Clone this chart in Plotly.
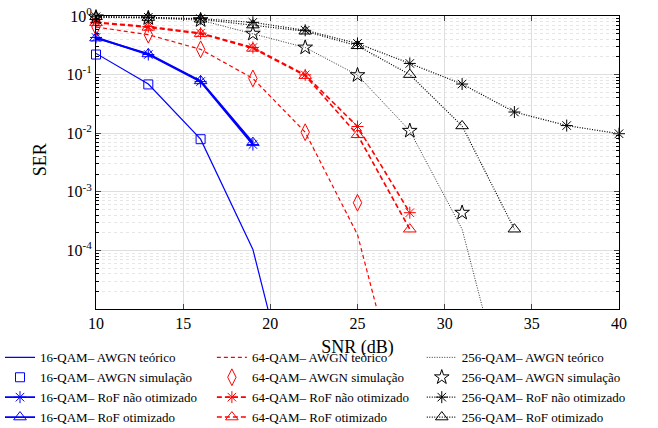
import plotly.graph_objects as go

# ---------------- data ----------------
snr16_teo = [10, 13, 16, 19, 22]
ser16_teo = [0.23, 0.069, 0.0079, 1.04e-4, 3e-8]
snr16_sim = [10, 13, 16]
ser16_sim = [0.22, 0.068, 0.0079]
snr16_rof = [10, 13, 16, 19]
ser16_rof_nao = [0.43, 0.22, 0.076, 0.0064]
ser16_rof_ot = [0.42, 0.225, 0.078, 0.0069]

snr64_teo = [10, 13, 16, 19, 22, 25, 28]
ser64_teo = [0.65, 0.48, 0.27, 0.086, 0.0104, 1.86e-4, 7e-8]
snr64_sim = [10, 13, 16, 19, 22, 25]
ser64_sim = [0.65, 0.48, 0.27, 0.086, 0.0104, 6.5e-4]
snr64_rof = [10, 13, 16, 19, 22, 25, 28]
ser64_rof_nao = [0.78, 0.66, 0.51, 0.29, 0.099, 0.013, 4.4e-4]
ser64_rof_ot = [0.77, 0.64, 0.50, 0.28, 0.096, 0.0094, 2.3e-4]

snr256_teo = [10, 13, 16, 19, 22, 25, 28, 31, 34]
ser256_teo = [0.95, 0.92, 0.85, 0.5, 0.29, 0.098, 0.011, 2.3e-4, 8.5e-8]
snr256_sim = [10, 13, 16, 19, 22, 25, 28, 31]
ser256_sim = [0.95, 0.92, 0.85, 0.5, 0.29, 0.098, 0.011, 4.4e-4]
snr256_rof_nao = [10, 13, 16, 19, 22, 25, 28, 31, 34, 37, 40]
ser256_rof_nao = [0.97, 0.95, 0.9, 0.78, 0.57, 0.34, 0.155, 0.069, 0.023, 0.0135, 0.0098]
snr256_rof_ot = [10, 13, 16, 19, 22, 25, 28, 31, 34]
ser256_rof_ot = [0.97, 0.94, 0.88, 0.7, 0.55, 0.31, 0.10, 0.0133, 2.3e-4]

x_ticks = [10, 15, 20, 25, 30, 35, 40]
y_ticks = [1, 0.1, 0.01, 1e-3, 1e-4]
y_ticktext = ["10<sup>0</sup>", "10<sup>-1</sup>", "10<sup>-2</sup>", "10<sup>-3</sup>", "10<sup>-4</sup>"]
y_minor = [m * 10 ** e for e in range(-5, 0) for m in range(2, 10)]

# ---------------- figure ----------------
FONT = "Liberation Serif"
BLUE, RED, BLACK = "#0000ff", "#ff0000", "#000000"
fig = go.Figure()

def add(x, y, name, color, legend, mode, dash="solid", width=1.0, symbol=None, size=9):
    kw = dict(x=x, y=y, name=name, mode=mode, legend=legend, cliponaxis=False)
    if "lines" in mode:
        kw["line"] = dict(color=color, width=width, dash=dash)
    if "markers" in mode:
        kw["marker"] = dict(symbol=symbol, size=size, color=color,
                            line=dict(color=color, width=1))
    fig.add_trace(go.Scatter(**kw))

# 16-QAM
add(snr16_teo, ser16_teo, "16-QAM– AWGN teórico", BLUE, "legend", "lines", width=1.2)
add(snr16_sim, ser16_sim, "16-QAM– AWGN simulação", BLUE, "legend", "markers", symbol="square-open", size=9)
add(snr16_rof, ser16_rof_nao, "16-QAM– RoF não otimizado", BLUE, "legend", "lines+markers", width=1.8, symbol="asterisk-open", size=10)
add(snr16_rof, ser16_rof_ot, "16-QAM– RoF otimizado", BLUE, "legend", "lines+markers", width=1.8, symbol="triangle-up-open", size=11)
# 64-QAM
add(snr64_teo, ser64_teo, "64-QAM– AWGN teórico", RED, "legend2", "lines", dash="4px,3px", width=1.2)
add(snr64_sim, ser64_sim, "64-QAM– AWGN simulação", RED, "legend2", "markers", symbol="diamond-tall-open", size=12)
add(snr64_rof, ser64_rof_nao, "64-QAM– RoF não otimizado", RED, "legend2", "lines+markers", dash="5px,3px", width=1.6, symbol="asterisk-open", size=10)
add(snr64_rof, ser64_rof_ot, "64-QAM– RoF otimizado", RED, "legend2", "lines+markers", dash="5px,3px", width=1.6, symbol="triangle-up-open", size=11)
# 256-QAM
add(snr256_teo, ser256_teo, "256-QAM– AWGN teórico", "#333333", "legend3", "lines", dash="1px,1.5px", width=1.0)
add(snr256_sim, ser256_sim, "256-QAM– AWGN simulação", BLACK, "legend3", "markers", symbol="star-open", size=11)
add(snr256_rof_nao, ser256_rof_nao, "256-QAM– RoF não otimizado", BLACK, "legend3", "lines+markers", dash="1px,1.5px", width=1.2, symbol="asterisk-open", size=10)
add(snr256_rof_ot, ser256_rof_ot, "256-QAM– RoF otimizado", BLACK, "legend3", "lines+markers", dash="1px,1.5px", width=1.2, symbol="triangle-up-open", size=11)

legend_common = dict(font=dict(family=FONT, size=13, color="#000000"),
                     bgcolor="rgba(0,0,0,0)", yanchor="top", xanchor="left",
                     xref="container", yref="container",
                     y=0.200, itemwidth=30, tracegroupgap=0)

fig.update_layout(
    width=658, height=428,
    margin=dict(l=96, r=39, t=16, b=119, autoexpand=False),
    paper_bgcolor="white", plot_bgcolor="white",
    legend=dict(x=0.0, **legend_common),
    legend2=dict(x=0.322, **legend_common),
    legend3=dict(x=0.641, **legend_common),
    xaxis=dict(
        range=[10, 40], tickvals=x_ticks, ticks="inside", ticklen=5,
        showline=True, linecolor="#000000", linewidth=1, mirror="ticks",
        showgrid=True, gridcolor="#dedede", gridwidth=1, zeroline=False,
        tickfont=dict(family=FONT, size=16, color="#000000"),
        title=dict(text="SNR (dB)", font=dict(family=FONT, size=18, color="#000000"), standoff=9),
    ),
    yaxis=dict(
        type="log", range=[-5, 0], tickvals=y_ticks, ticktext=y_ticktext,
        ticks="inside", ticklen=5,
        showline=True, linecolor="#000000", linewidth=1, mirror="ticks",
        showgrid=True, gridcolor="#dedede", gridwidth=1, zeroline=False,
        tickfont=dict(family=FONT, size=16, color="#000000"),
        minor=dict(tickvals=y_minor, ticks="inside", ticklen=3, tickcolor="#000000",
                   showgrid=True, gridcolor="#e6e6e6", griddash="dot", gridwidth=1),
    ),
    annotations=[dict(text="SER", textangle=-90, x=-0.107, y=0.508, xref="paper", yref="paper",
                      xanchor="center", yanchor="middle", showarrow=False,
                      font=dict(family=FONT, size=18, color="#000000"))],
)

fig.write_html("out.html", config={"displayModeBar": False},
               post_script="document.body.style.margin='0';")
